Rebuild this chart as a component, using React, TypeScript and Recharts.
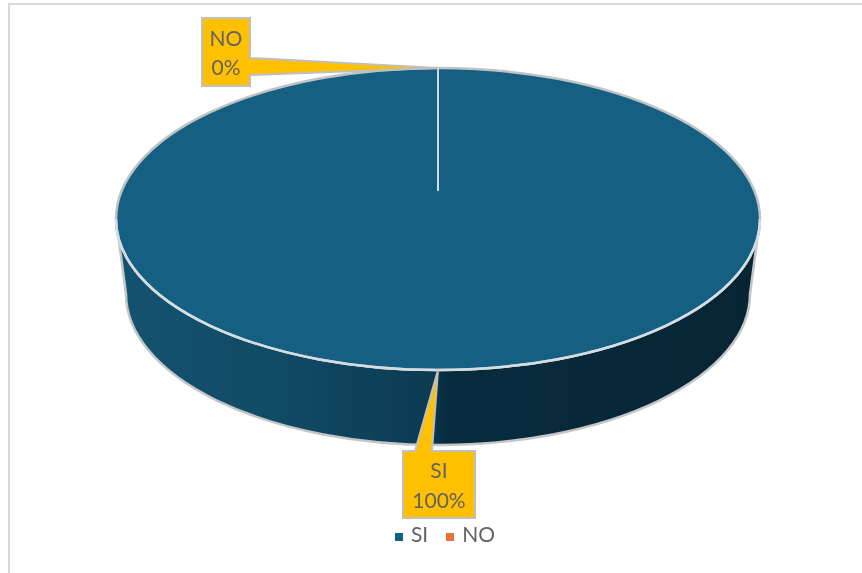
import { Legend, Pie, PieChart } from "recharts"

const categories = ["SI", "NO"]
const values = [100, 0]
const colors = ["#156082", "#E97132"]

const pieData = categories.map((name, i) => ({ name, value: values[i], fill: colors[i] }))

// fake 3D: the flat pie gets squashed and a side wall is added under it
const CX = 438
const CY = 219
const RADIUS = 322
const TILT = 151 / 322
const DEPTH = 75
const BASE_INSET = 10
const APEX_SHIFT = -28

const toPoint = (cx: number, cy: number, r: number, angle: number) => {
  const rad = (angle * Math.PI) / 180
  return { x: cx + r * Math.cos(rad), y: cy - r * TILT * Math.sin(rad) }
}

const renderSlice = (props: any) => {
  const { cx, cy, outerRadius, startAngle, endAngle } = props
  const ry = outerRadius * TILT

  // zero width slice, only its edge line shows
  if (startAngle === endAngle) {
    const edge = toPoint(cx, cy, outerRadius, startAngle)
    return <line x1={edge.x} y1={edge.y} x2={edge.x} y2={cy + APEX_SHIFT} stroke="#cfdbe1" strokeWidth={2} />
  }

  const left = cx - outerRadius
  const right = cx + outerRadius
  const baseRx = outerRadius - BASE_INSET
  const baseY = cy + DEPTH
  const wall = `M${left} ${cy} A${outerRadius} ${ry} 0 0 0 ${right} ${cy} L${cx + baseRx} ${baseY} A${baseRx} ${ry} 0 0 1 ${cx - baseRx} ${baseY} Z`

  return (
    <g>
      <defs>
        <linearGradient id="wallFill" gradientUnits="userSpaceOnUse" x1={left} x2={right} y1={0} y2={0}>
          <stop offset="0" stopColor="#145370" />
          <stop offset="0.25" stopColor="#114a65" />
          <stop offset="0.49" stopColor="#0c3b53" />
          <stop offset="0.51" stopColor="#072c3f" />
          <stop offset="1" stopColor="#072433" />
        </linearGradient>
      </defs>
      <path d={wall} fill="url(#wallFill)" stroke="#c4c6c8" strokeWidth={2.5} strokeLinejoin="round" />
      <ellipse cx={cx} cy={cy} rx={outerRadius} ry={ry} fill={props.fill} stroke="#bfc3c6" strokeWidth={2.5} />
      <path d={`M${left} ${cy} A${outerRadius} ${ry} 0 0 0 ${right} ${cy}`} fill="none" stroke="#d3dde2" strokeWidth={2.5} />
    </g>
  )
}

// callout outlines, the tip comes from the slice angle
const callouts: Record<string, any> = {
  SI: {
    textX: 439,
    baselines: [478, 508],
    outline: (tip: string) => `M403 451 H415 L${tip} L432 451 H475 V518 H403 Z`,
  },
  NO: {
    textX: 226,
    baselines: [46, 75],
    outline: (tip: string) => `M202 18 H250 V58 L${tip} L250 75 V86 H202 Z`,
  },
}

const renderCallout = (props: any) => {
  const { cx, cy, outerRadius, midAngle, percent, name } = props
  const tip = toPoint(cx, cy, outerRadius, midAngle)
  const box = callouts[name]
  return (
    <g>
      <path d={box.outline(`${tip.x} ${tip.y}`)} fill="#FFC000" stroke="#BFBFBF" strokeWidth={2} />
      <text x={box.textX} y={box.baselines[0]} textAnchor="middle" fontSize={21} fill="#636363">
        {name}
      </text>
      <text x={box.textX} y={box.baselines[1]} textAnchor="middle" fontSize={21} fill="#636363">
        {`${Math.round(percent * 100)}%`}
      </text>
    </g>
  )
}

export default function App() {
  return (
    <div style={{ position: "absolute", left: 0, top: 0, width: 862, height: 573, background: "#fff", fontFamily: "Lato, sans-serif", filter: "blur(0.5px)" }}>
      <div style={{ position: "absolute", left: 8, top: 3, right: 0, bottom: 0, borderTop: "2px solid #d9d9d9", borderLeft: "2px solid #d9d9d9" }} />
      <PieChart width={862} height={573} margin={{ top: 0, right: 0, bottom: 0, left: 0 }} style={{ position: "absolute" }}>
        <Pie
          data={pieData}
          dataKey="value"
          nameKey="name"
          cx={CX}
          cy={CY}
          outerRadius={RADIUS}
          startAngle={90}
          endAngle={-270}
          stroke="none"
          legendType="square"
          shape={renderSlice}
          label={renderCallout}
          labelLine={false}
          isAnimationActive={false}
        />
        <Legend
          layout="horizontal"
          iconSize={8}
          itemSorter={null}
          wrapperStyle={{ left: 349, top: 521, width: 210, height: 28, fontSize: 21 }}
          formatter={(value) => <span style={{ color: "#636363", marginLeft: 4, marginRight: 8 }}>{value}</span>}
        />
      </PieChart>
    </div>
  )
}
